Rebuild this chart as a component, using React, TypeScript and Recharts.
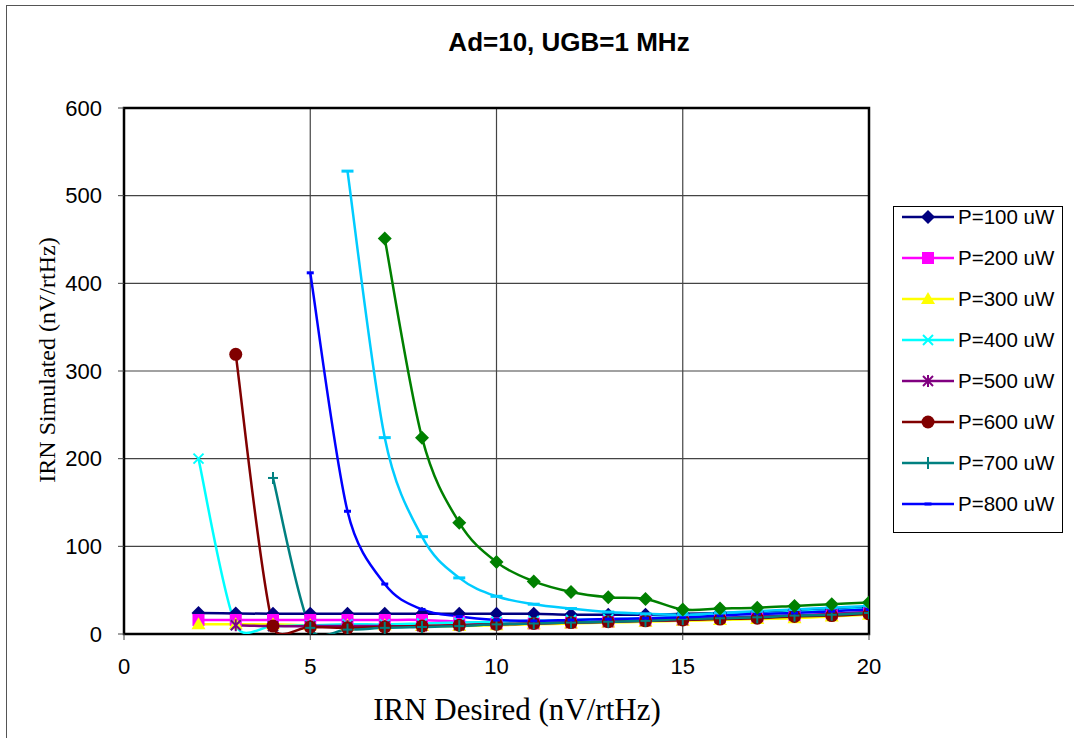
import React from 'react';
import { LineChart, Line, XAxis, YAxis, CartesianGrid, ReferenceArea } from 'recharts';

// x values (IRN desired) per series start; y values
const xFrom2 = [2, 3, 4, 5, 6, 7, 8, 9, 10, 11, 12, 13, 14, 15, 16, 17, 18, 19, 20];
const xFrom3 = xFrom2.slice(1);
const xFrom4 = xFrom2.slice(2);
const xFrom5 = xFrom2.slice(3);
const xFrom6 = xFrom2.slice(4);
const xFrom7 = xFrom2.slice(5);

const p100 = [24, 23.5, 23, 23, 23, 23, 23, 23, 23, 23, 22, 22, 22, 23, 24, 25, 27, 28, 30];
const p200 = [16, 16, 16, 16, 16, 16, 16, 14, 12, 12, 13, 14, 15, 16, 18, 19, 21, 23, 25];
const p300 = [11, 11, 11, 10, 10, 10, 9, 9, 10, 11, 12, 13, 14, 15, 16, 17, 18, 20, 22];
const p400 = [200, 10, 9, 10, 11, 11, 12, 13, 14, 15, 16, 17, 18, 20, 22, 23, 25, 27, 29];
const p500 = [10, 9, 9, 9, 9, 9, 10, 11, 12, 13, 14, 15, 16, 18, 20, 21, 23, 25];
const p600 = [319, 9, 8, 7, 8, 9, 10, 11, 12, 13, 14, 15, 16, 17, 18, 20, 21, 23];
const p700 = [178, 7, 5, 7, 8, 9, 11, 12, 13, 14, 15, 17, 18, 19, 21, 22, 24];
const p800 = [412, 140, 57, 28, 20, 16, 15, 16, 17, 18, 19, 21, 23, 24, 26, 28];
const p900 = [528, 224, 111, 64, 43, 34, 29, 25, 23, 22, 24, 26, 28, 30, 32];
const p1000 = [451, 224, 127, 82, 60, 48, 42, 40, 28, 29, 30, 32, 34, 36];

const xTicks = [0, 5, 10, 15, 20];
const yTicks = [0, 100, 200, 300, 400, 500, 600];

type Shape = 'diamond' | 'square' | 'triangle' | 'x' | 'star' | 'circle' | 'plus' | 'dash' | 'longdash';

const series: Array<{ name: string; xs: number[]; ys: number[]; color: string; shape: Shape; legend: boolean }> = [
  { name: 'P=100 uW', xs: xFrom2, ys: p100, color: '#000080', shape: 'diamond', legend: true },
  { name: 'P=200 uW', xs: xFrom2, ys: p200, color: '#FF00FF', shape: 'square', legend: true },
  { name: 'P=300 uW', xs: xFrom2, ys: p300, color: '#FFFF00', shape: 'triangle', legend: true },
  { name: 'P=400 uW', xs: xFrom2, ys: p400, color: '#00FFFF', shape: 'x', legend: true },
  { name: 'P=500 uW', xs: xFrom3, ys: p500, color: '#800080', shape: 'star', legend: true },
  { name: 'P=600 uW', xs: xFrom3, ys: p600, color: '#800000', shape: 'circle', legend: true },
  { name: 'P=700 uW', xs: xFrom4, ys: p700, color: '#008080', shape: 'plus', legend: true },
  { name: 'P=800 uW', xs: xFrom5, ys: p800, color: '#0000FF', shape: 'dash', legend: true },
  { name: 'P=900 uW', xs: xFrom6, ys: p900, color: '#00CCFF', shape: 'longdash', legend: false },
  { name: 'P=1000 uW', xs: xFrom7, ys: p1000, color: '#008000', shape: 'diamond', legend: false },
];

// Excel-like smoothed line: bezier through points, control arms limited by segment length
const excelCurve = (context: any) => {
  let pts: number[][] = [];
  const arm = (a: number[], b: number[], seg: number) => {
    let dx = (b[0] - a[0]) / 6;
    let dy = (b[1] - a[1]) / 6;
    const len = Math.hypot(dx, dy);
    if (len > seg / 2 && len > 0) {
      const k = seg / 2 / len;
      dx *= k;
      dy *= k;
    }
    return [dx, dy];
  };
  return {
    areaStart() {},
    areaEnd() {},
    lineStart() {
      pts = [];
    },
    point(x: number, y: number) {
      pts.push([+x, +y]);
    },
    lineEnd() {
      const n = pts.length;
      if (!n) return;
      context.moveTo(pts[0][0], pts[0][1]);
      for (let i = 0; i < n - 1; i++) {
        const p0 = pts[Math.max(i - 1, 0)];
        const p1 = pts[i];
        const p2 = pts[i + 1];
        const p3 = pts[Math.min(i + 2, n - 1)];
        const seg = Math.hypot(p2[0] - p1[0], p2[1] - p1[1]);
        const a1 = arm(p0, p2, seg);
        const a2 = arm(p1, p3, seg);
        context.bezierCurveTo(p1[0] + a1[0], p1[1] + a1[1], p2[0] - a2[0], p2[1] - a2[1], p2[0], p2[1]);
      }
    },
  };
};

const Marker = ({ shape, color, cx, cy }: { shape: Shape; color: string; cx: number; cy: number }) => {
  switch (shape) {
    case 'diamond':
      return <polygon points={`${cx},${cy - 7} ${cx + 7},${cy} ${cx},${cy + 7} ${cx - 7},${cy}`} fill={color} />;
    case 'square':
      return <rect x={cx - 6} y={cy - 6} width={12} height={12} fill={color} />;
    case 'triangle':
      return <polygon points={`${cx},${cy - 7} ${cx + 7},${cy + 5} ${cx - 7},${cy + 5}`} fill={color} />;
    case 'x':
      return (
        <g stroke={color} strokeWidth={2}>
          <line x1={cx - 5} y1={cy - 5} x2={cx + 5} y2={cy + 5} />
          <line x1={cx - 5} y1={cy + 5} x2={cx + 5} y2={cy - 5} />
        </g>
      );
    case 'star':
      return (
        <g stroke={color} strokeWidth={2}>
          <line x1={cx - 5} y1={cy - 5} x2={cx + 5} y2={cy + 5} />
          <line x1={cx - 5} y1={cy + 5} x2={cx + 5} y2={cy - 5} />
          <line x1={cx} y1={cy - 6} x2={cx} y2={cy + 6} />
        </g>
      );
    case 'circle':
      return <circle cx={cx} cy={cy} r={6.5} fill={color} />;
    case 'plus':
      return (
        <g stroke={color} strokeWidth={2}>
          <line x1={cx - 5} y1={cy} x2={cx + 5} y2={cy} />
          <line x1={cx} y1={cy - 6} x2={cx} y2={cy + 6} />
        </g>
      );
    case 'dash':
      return <rect x={cx - 3.5} y={cy - 1.5} width={7} height={3} fill={color} />;
    case 'longdash':
      return <rect x={cx - 6} y={cy - 1.5} width={12} height={3} fill={color} />;
  }
  return null;
};

const LegendBox = () => (
  <div
    style={{
      position: 'absolute',
      left: 893,
      top: 206,
      width: 170,
      height: 327,
      border: '1px solid #000',
      background: '#fff',
      boxSizing: 'border-box',
      overflow: 'hidden',
    }}
  >
    {series
      .filter((s) => s.legend)
      .map((s, i) => (
        <div
          key={s.name}
          style={{ position: 'absolute', left: 0, top: i * 41 - 1, height: 22, display: 'flex', alignItems: 'center' }}
        >
          <svg width={64} height={22}>
            <line x1={8} y1={11} x2={60} y2={11} stroke={s.color} strokeWidth={2.5} />
            <Marker shape={s.shape} color={s.color} cx={34} cy={11} />
          </svg>
          <span style={{ fontFamily: '"Liberation Sans", Arial, sans-serif', fontSize: 20.5, color: '#000', lineHeight: '22px' }}>
            {s.name}
          </span>
        </div>
      ))}
  </div>
);

const App: React.FC = () => {
  const tickStyle = { fill: '#000', fontSize: 22, fontFamily: '"Liberation Sans", Arial, sans-serif' };
  return (
    <div style={{ position: 'absolute', left: 0, top: 0, width: 1074, height: 738, background: '#fff', overflow: 'hidden' }}>
      <div
        style={{
          position: 'absolute',
          left: 6,
          top: 5,
          width: 1080,
          height: 740,
          borderTop: '1.5px solid #555',
          borderLeft: '1.5px solid #555',
        }}
      />
      <div
        style={{
          position: 'absolute',
          left: 569,
          top: 42,
          transform: 'translate(-50%, -50%)',
          whiteSpace: 'nowrap',
          fontFamily: '"Liberation Sans", Arial, sans-serif',
          fontWeight: 'bold',
          fontSize: 26,
        }}
      >
        Ad=10, UGB=1 MHz
      </div>
      <div
        style={{
          position: 'absolute',
          left: 47,
          top: 360,
          transform: 'translate(-50%, -50%) rotate(-90deg)',
          whiteSpace: 'nowrap',
          fontFamily: '"Liberation Serif", "Times New Roman", serif',
          fontSize: 24,
        }}
      >
        IRN Simulated (nV/rtHz)
      </div>
      <div
        style={{
          position: 'absolute',
          left: 517,
          top: 710,
          transform: 'translate(-50%, -50%)',
          whiteSpace: 'nowrap',
          fontFamily: '"Liberation Serif", "Times New Roman", serif',
          fontSize: 31,
        }}
      >
        IRN Desired (nV/rtHz)
      </div>
      <LineChart
        width={1074}
        height={738}
        margin={{ top: 108, right: 205, bottom: 64, left: 64 }}
        style={{ position: 'absolute', left: 0, top: 0 }}
      >
        <CartesianGrid stroke="#444" strokeWidth={1.2} />
        <XAxis
          type="number"
          dataKey="x"
          domain={[0, 20]}
          ticks={xTicks}
          allowDataOverflow
          height={40}
          tick={tickStyle}
          tickSize={6}
          tickMargin={18}
          axisLine={false}
          tickLine={{ stroke: '#444' }}
        />
        <YAxis
          type="number"
          dataKey="y"
          domain={[0, 600]}
          ticks={yTicks}
          allowDataOverflow
          width={60}
          tick={tickStyle}
          tickSize={6}
          tickMargin={16}
          axisLine={false}
          tickLine={{ stroke: '#444' }}
        />
        <ReferenceArea x1={0} x2={20} y1={0} y2={600} fill="none" stroke="#000" strokeWidth={2.5} ifOverflow="visible" />
        {series.map((s) => (
          <Line
            key={s.name}
            data={s.xs.map((x, i) => ({ x, y: s.ys[i] }))}
            dataKey="y"
            name={s.name}
            type={excelCurve as any}
            stroke={s.color}
            strokeWidth={2.5}
            isAnimationActive={false}
            legendType="none"
            dot={(p: any) => <Marker key={`${s.name}-${p.index}`} shape={s.shape} color={s.color} cx={p.cx} cy={p.cy} />}
            activeDot={false}
          />
        ))}
      </LineChart>
      <LegendBox />
    </div>
  );
};

export default App;
